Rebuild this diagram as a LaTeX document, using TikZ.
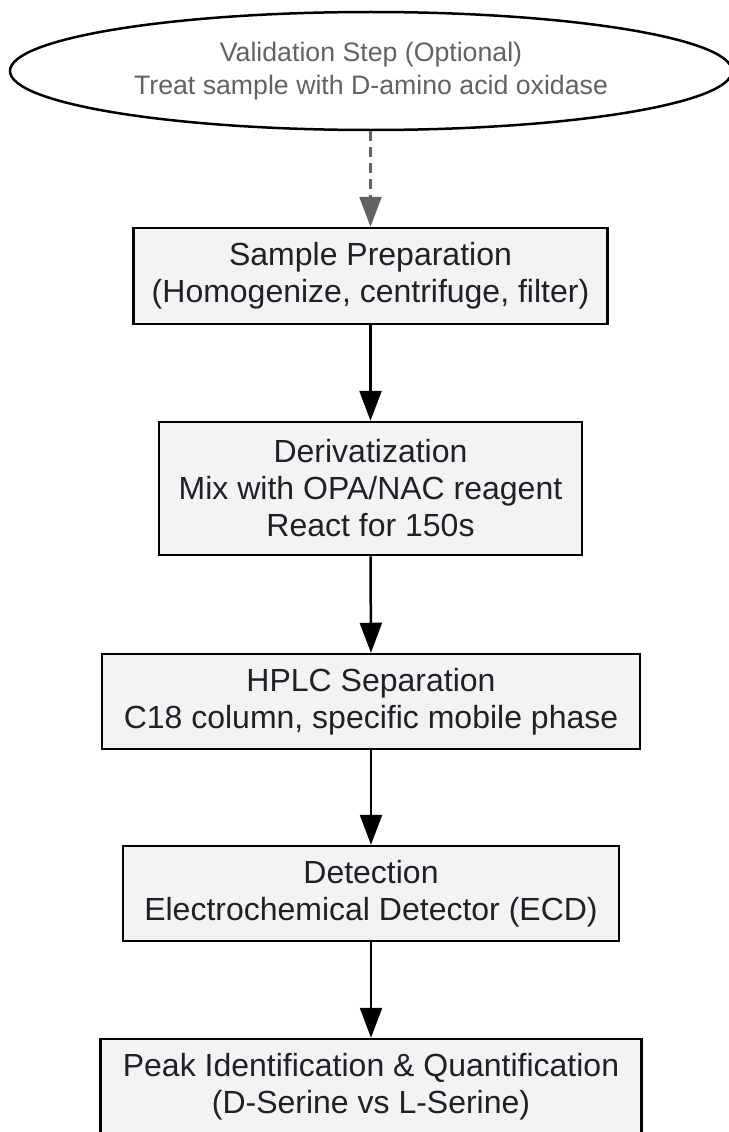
\documentclass[tikz,border=0pt]{standalone}
\usepackage{fontspec}
\setmainfont{Liberation Sans}
\usetikzlibrary{shapes.geometric,arrows.meta}
\definecolor{boxfill}{HTML}{F1F3F4}
\definecolor{boxtext}{HTML}{202124}
\definecolor{optgray}{HTML}{5F6368}
\begin{document}
\begin{tikzpicture}[x=1pt,y=-1pt,
  stepbox/.style={draw=black, line width=2.5pt, fill=boxfill, text=boxtext,
    align=center, inner sep=0pt, font=\fontsize{32}{37}\selectfont},
  optnode/.style={ellipse, draw=black, line width=2.5pt, fill=white, text=optgray,
    align=center, inner sep=0pt, font=\fontsize{26.7}{33}\selectfont},
  flow/.style={line width=2.5pt, draw=black, -{Triangle[length=30pt,width=22pt]}},
  optflow/.style={line width=2.5pt, draw=optgray, dash pattern=on 10pt off 6pt,
    -{Triangle[length=30pt,width=22pt]}}
]
\useasboundingbox (0,0) rectangle (728,1132);
\fill[white] (0,0) rectangle (728,1132);

\node[optnode, minimum width=722pt, minimum height=118pt] (val) at (371,71)
  {Validation Step (Optional)\\Treat sample with D-amino acid oxidase};

\node[stepbox, minimum width=474pt, minimum height=96pt] (prep) at (370.5,276)
  {Sample Preparation\\(Homogenize, centrifuge, filter)};

\node[stepbox, minimum width=423pt, minimum height=133pt] (deriv) at (370.5,488.5)
  {Derivatization\\Mix with OPA/NAC reagent\\React for 150s};

\node[stepbox, minimum width=538pt, minimum height=95pt] (hplc) at (371,701.5)
  {HPLC Separation\\C18 column, specific mobile phase};

\node[stepbox, minimum width=496pt, minimum height=95pt] (det) at (371,893.5)
  {Detection\\Electrochemical Detector (ECD)};

\node[stepbox, minimum width=541pt, minimum height=96pt] (peak) at (371,1087)
  {Peak Identification \& Quantification\\(D-Serine vs L-Serine)};

\draw[optflow] (val.south -| prep.north) -- (prep.north);
\draw[flow] (prep.south) -- (deriv.north);
\draw[flow] (deriv.south) -- (hplc.north);
\draw[flow] (hplc.south) -- (det.north);
\draw[flow] (det.south) -- (peak.north);
\end{tikzpicture}
\end{document}
